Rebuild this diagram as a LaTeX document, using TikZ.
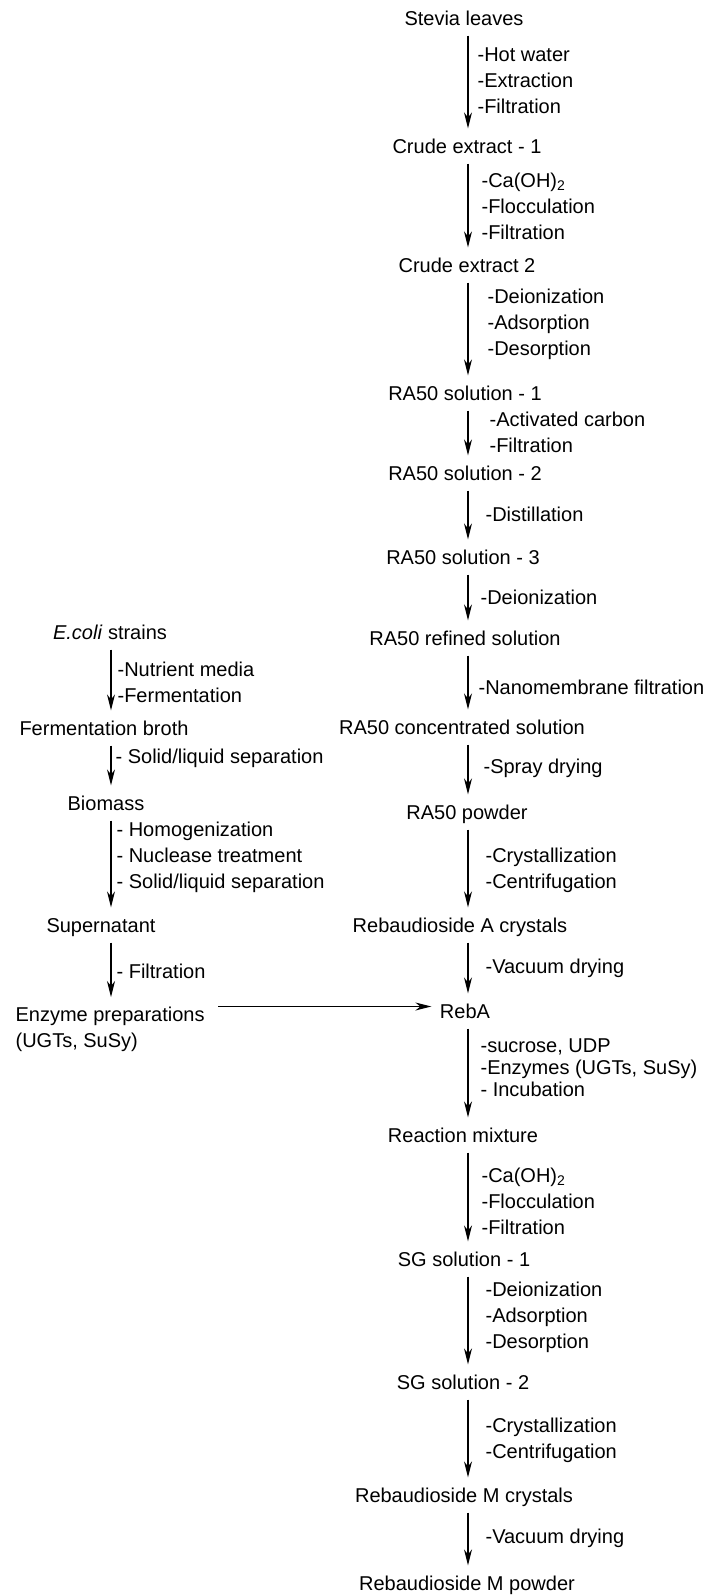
\documentclass[tikz,border=0pt]{standalone}
\usepackage{fontspec}
\setmainfont{Liberation Sans}
\usepackage{tikz}
\usetikzlibrary{arrows.meta}

\begin{document}
\begin{tikzpicture}[
					x=0.5pt, y=-0.5pt,
					font=\fontsize{10}{13}\selectfont,
					main/.style={inner sep=0pt, text height=7.5pt, text depth=2pt, yshift=-0.75pt},
					note/.style={anchor=west, align=left, inner sep=0pt},
					->,>={Stealth[length=8pt, width=4pt, inset=2.5pt]}, line width=0.6pt,
					shorten <=3pt, shorten >=4.5pt
				]
				\useasboundingbox (0,0) rectangle (704,1596);

				% Axes of the two columns
				\coordinate (rax) at (468,0);
				\coordinate (lax) at (111,0);

				% Define the main nodes (RebA route)
				\node[main] (stevia) at (464,18) {Stevia leaves};
				\node[main] (crude1) at (467,146) {Crude extract - 1};
				\node[main] (crude2) at (467,265) {Crude extract 2};
				\node[main] (ra1) at (465,393) {RA50 solution - 1};
				\node[main] (ra2) at (465,473) {RA50 solution - 2};
				\node[main] (ra3) at (463,557) {RA50 solution - 3};
				\node[main] (raref) at (465,638) {RA50 refined solution};
				\node[main] (racon) at (462,727) {RA50 concentrated solution};
				\node[main] (rapow) at (467,812) {RA50 powder};
				\node[main] (rebacr) at (460,925) {Rebaudioside A crystals};
				\node[main] (reba) at (465,1011) {RebA};
				\node[main] (mix) at (463,1135) {Reaction mixture};
				\node[main] (sg1) at (464,1259) {SG solution - 1};
				\node[main] (sg2) at (463,1382) {SG solution - 2};
				\node[main] (rebmcr) at (464,1495) {Rebaudioside M crystals};
				\node[main] (rebmpow) at (467,1583) {Rebaudioside M powder};

				% Define the main nodes (enzyme route)
				\node[main] (ecoli) at (110,632) {\textit{E.coli} strains};
				\node[main] (broth) at (104,728) {Fermentation broth};
				\node[main] (biomass) at (106,803) {Biomass};
				\node[main] (super) at (101,925) {Supernatant};
				\node[anchor=north west, align=left, inner sep=0pt] (enz) at (15,1006) {Enzyme preparations\\(UGTs, SuSy)};

				% Define the step notes
				\node[note] (n1) at (477,81) {-Hot water\\-Extraction\\-Filtration};
				\node[note] (n2) at (481,206) {-Ca(OH)\textsubscript{2}\\-Flocculation\\-Filtration};
				\node[note] (n3) at (487,324) {-Deionization\\-Adsorption\\-Desorption};
				\node[note] (n4) at (489,432) {-Activated carbon\\-Filtration};
				\node[note] (n5) at (485,514) {-Distillation};
				\node[note] (n6) at (480,597) {-Deionization};
				\node[note] (n7) at (478,687) {-Nanomembrane filtration};
				\node[note] (n8) at (483,768) {-Spray drying};
				\node[note] (n9) at (485,870) {-Crystallization\\-Centrifugation};
				\node[note] (n10) at (485,968) {-Vacuum drying};
				\node[note, font=\fontsize{10}{11}\selectfont] (n11) at (480,1068) {-sucrose, UDP\\-Enzymes (UGTs, SuSy)\\- Incubation};
				\node[note] (n12) at (481,1201) {-Ca(OH)\textsubscript{2}\\-Flocculation\\-Filtration};
				\node[note] (n13) at (485,1317) {-Deionization\\-Adsorption\\-Desorption};
				\node[note] (n14) at (485,1440) {-Crystallization\\-Centrifugation};
				\node[note] (n15) at (485,1538) {-Vacuum drying};

				\node[note] (m1) at (117,682) {-Nutrient media\\-Fermentation};
				\node[note] (m2) at (115,758) {- Solid/liquid separation};
				\node[note] (m3) at (116,857) {- Homogenization\\- Nuclease treatment\\- Solid/liquid separation};
				\node[note] (m4) at (116,971) {- Filtration};

				% Draw the arrows
				\draw (stevia.south -| rax) -- (crude1.north -| rax);
				\draw (crude1.south -| rax) -- (crude2.north -| rax);
				\draw (crude2.south -| rax) -- (ra1.north -| rax);
				\draw (ra1.south -| rax) -- (ra2.north -| rax);
				\draw (ra2.south -| rax) -- (ra3.north -| rax);
				\draw (ra3.south -| rax) -- (raref.north -| rax);
				\draw (raref.south -| rax) -- (racon.north -| rax);
				\draw (racon.south -| rax) -- (rapow.north -| rax);
				\draw (rapow.south -| rax) -- (rebacr.north -| rax);
				\draw (rebacr.south -| rax) -- (reba.north -| rax);
				\draw (reba.south -| rax) -- (mix.north -| rax);
				\draw (mix.south -| rax) -- (sg1.north -| rax);
				\draw (sg1.south -| rax) -- (sg2.north -| rax);
				\draw (sg2.south -| rax) -- (rebmcr.north -| rax);
				\draw (rebmcr.south -| rax) -- (rebmpow.north -| rax);

				\draw (ecoli.south -| lax) -- (broth.north -| lax);
				\draw (broth.south -| lax) -- (biomass.north -| lax);
				\draw (biomass.south -| lax) -- (super.north -| lax);
				\draw (super.south -| lax) -- (enz.north -| lax);

				\draw[shorten <=6.5pt, shorten >=4pt] ([yshift=3pt]enz.east |- reba.west) -- ([yshift=3pt]reba.west);
			\end{tikzpicture}
\end{document}
